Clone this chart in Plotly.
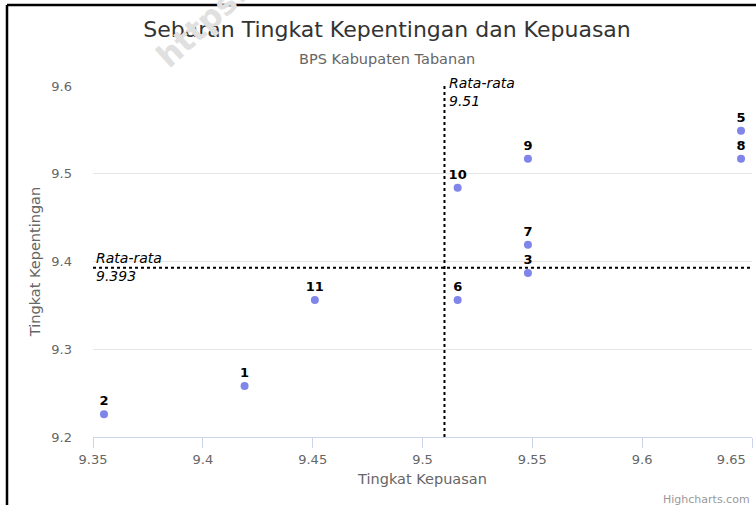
import plotly.graph_objects as go

# Data
labels = ["1", "2", "3", "5", "6", "7", "8", "9", "10", "11"]
kepuasan = [9.419, 9.355, 9.548, 9.645, 9.516, 9.548, 9.645, 9.548, 9.516, 9.451]
kepentingan = [9.258, 9.226, 9.387, 9.549, 9.356, 9.419, 9.517, 9.517, 9.484, 9.356]
mean_kepuasan = 9.51
mean_kepentingan = 9.393
x_ticks = [9.35, 9.4, 9.45, 9.5, 9.55, 9.6, 9.65]
x_ticktext = ["9.35", "9.4", "9.45", "9.5", "9.55", "9.6", "9.65" + "\u00a0" * 10]
y_ticks = [9.2, 9.3, 9.4, 9.5, 9.6]
x_range = [9.35, 9.65]
y_range = [9.2, 9.6]

FONT = "DejaVu Sans"

fig = go.Figure()

# reference lines (drawn as traces from the mean values)
fig.add_trace(go.Scatter(
    x=[mean_kepuasan, mean_kepuasan], y=y_range, mode="lines",
    line=dict(color="#000000", width=2, dash="dot"), hoverinfo="skip", showlegend=False))
fig.add_trace(go.Scatter(
    x=x_range, y=[mean_kepentingan, mean_kepentingan], mode="lines",
    line=dict(color="#000000", width=2, dash="dot"), hoverinfo="skip", showlegend=False))

fig.add_trace(go.Scatter(
    x=kepuasan, y=kepentingan, mode="markers+text", text=labels,
    textposition="top center",
    textfont=dict(family=FONT, size=13, color="#000000", weight="bold"),
    marker=dict(size=8, color="#8085e9"),
    showlegend=False, cliponaxis=False))

fig.update_layout(
    width=756, height=505,
    margin=dict(l=93, r=4, t=86, b=68, autoexpand=False),
    paper_bgcolor="#ffffff", plot_bgcolor="#ffffff",
    font=dict(family=FONT, color="#666666"),
    title=dict(text="Sebaran Tingkat Kepentingan dan Kepuasan",
               x=387 / 756, xanchor="center", y=1 - 29 / 505, yanchor="middle",
               font=dict(family=FONT, size=22, color="#333333")),
    xaxis=dict(range=x_range, tickvals=x_ticks, ticktext=x_ticktext,
               showgrid=False, zeroline=False,
               showline=True, linecolor="#ccd6eb", linewidth=1,
               ticks="outside", ticklen=10, tickcolor="#ccd6eb",
               ticklabeloverflow="allow",
               tickfont=dict(family=FONT, size=13, color="#666666"),
               title=dict(text="Tingkat Kepuasan", font=dict(family=FONT, size=14.5, color="#666666"),
                          standoff=8)),
    yaxis=dict(range=y_range, tickvals=y_ticks, ticktext=[str(v) for v in y_ticks],
               showgrid=True, gridcolor="#e6e6e6", gridwidth=1, zeroline=False,
               showline=False, ticks="", ticklabelstandoff=20,
               tickfont=dict(family=FONT, size=13, color="#666666"),
               title=dict(text="Tingkat Kepentingan", font=dict(family=FONT, size=14.5, color="#666666"),
                          standoff=7)),
    annotations=[
        dict(text="https://tabanankab.bps.go.id", xref="paper", yref="paper",
             x=(357 - 93) / 659, y=(437 + 115) / 351, xanchor="center", yanchor="middle",
             textangle=-42, showarrow=False,
             font=dict(family=FONT, size=32, color="#e0e0e0", weight="bold")),
        dict(text="BPS Kabupaten Tabanan", xref="paper", yref="paper",
             x=(387 - 93) / 659, y=(437 - 59) / 351, xanchor="center", yanchor="middle",
             showarrow=False, font=dict(family=FONT, size=14.5, color="#666666")),
        dict(text="Rata-rata<br>9.51", x=mean_kepuasan, y=y_range[1], xref="x", yref="y",
             xanchor="left", yanchor="top", xshift=3, yshift=13, align="left",
             showarrow=False, font=dict(family=FONT, size=14, color="#000000", style="italic")),
        dict(text="Rata-rata<br>9.393", x=x_range[0], y=mean_kepentingan, xref="x", yref="y",
             xanchor="left", yanchor="middle", xshift=1, yshift=1, align="left",
             showarrow=False, font=dict(family=FONT, size=14, color="#000000", style="italic")),
        dict(text="Highcharts.com", xref="paper", yref="paper",
             x=1.0, y=(437 - 499) / 351, xanchor="right", yanchor="middle",
             showarrow=False, font=dict(family=FONT, size=11, color="#999999")),
    ],
    shapes=[
        dict(type="line", xref="paper", yref="paper",
             x0=(7 - 93) / 659, x1=(7 - 93) / 659, y0=(437 - 5) / 351, y1=(437 - 520) / 351,
             line=dict(color="#000000", width=2.5)),
        dict(type="line", xref="paper", yref="paper",
             x0=(7 - 93) / 659, x1=(770 - 93) / 659, y0=(437 - 5) / 351, y1=(437 - 5) / 351,
             line=dict(color="#000000", width=2.5)),
    ],
)

fig.write_html("out.html", config={"displayModeBar": False},
               post_script="document.body.style.margin='0';")
